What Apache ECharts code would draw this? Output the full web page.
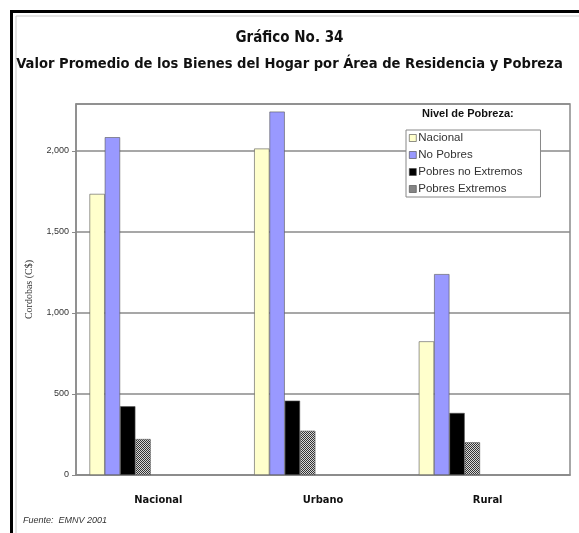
<!DOCTYPE html>
<html>
<head>
<meta charset="utf-8">
<script src="https://cdn.jsdelivr.net/npm/echarts@6/dist/echarts.min.js"></script>
<style>
  html, body { margin: 0; padding: 0; background: #fff; }
  #chart { width: 579px; height: 533px; }
</style>
</head>
<body>
<div id="chart"></div>
<script>
// datos
var areas = ['Nacional', 'Urbano', 'Rural'];
var nivel = ['Nacional', 'No Pobres', 'Pobres no Extremos', 'Pobres Extremos'];
var valNacional = [1735, 2015, 825];
var valNoPobres = [2085, 2243, 1240];
var valNoExtremos = [424, 459, 383];
var valExtremos = [222, 273, 202];
var yTicks = [0, 500, 1000, 1500, 2000];

var narrow = "'DejaVu Sans Condensed', 'Liberation Sans Narrow', 'Liberation Sans', sans-serif";

// trama cuadriculada para "Pobres Extremos"
function hatch() {
    var c = document.createElement('canvas');
    c.width = 2; c.height = 2;
    var ctx = c.getContext('2d');
    ctx.fillStyle = '#d8d8d8';
    ctx.fillRect(0, 0, 2, 2);
    ctx.fillStyle = '#333';
    ctx.fillRect(0, 0, 1, 1);
    ctx.fillRect(1, 1, 1, 1);
    return { image: c, repeat: 'repeat' };
}

var myChart = echarts.init(document.getElementById('chart'));
var barW = 15.3;
function serie(name, data, color) {
    return {
        name: name,
        type: 'bar',
        data: data,
        barWidth: barW,
        barGap: '0%',
        itemStyle: { color: color, borderColor: '#555', borderWidth: 0.6 }
    };
}
// series vacias: en el original el grupo de barras no esta centrado
var empty = [null, null, null];
var series = [
    serie(nivel[0], valNacional, '#ffffcc'),
    serie(nivel[1], valNoPobres, '#9999ff'),
    serie(nivel[2], valNoExtremos, '#000000'),
    serie(nivel[3], valExtremos, hatch())
];
for (var i = 0; i < 5; i++) {
    series.push({ name: 'x' + i, type: 'bar', data: empty, barWidth: barW, barGap: '0%', silent: true });
}

var option = {
    backgroundColor: '#fff',
    animation: false,
    title: [
        {
            text: 'Gráfico No. 34',
            left: 'center',
            top: 26,
            textStyle: { fontFamily: narrow, fontWeight: 'bold', fontSize: 15, color: '#111' }
        },
        {
            text: 'Valor Promedio de los Bienes del Hogar por Área de Residencia y Pobreza',
            left: 'center',
            top: 52,
            textStyle: { fontFamily: narrow, fontWeight: 'bold', fontSize: 14.6, color: '#111' }
        },
        {
            text: 'Nivel de Pobreza:',
            left: 422,
            top: 108,
            padding: 0,
            textStyle: { fontFamily: 'Liberation Sans', fontWeight: 'bold', fontSize: 11, color: '#111' }
        },
        {
            text: 'Fuente:  EMNV 2001',
            left: 23,
            top: 516,
            padding: 0,
            textStyle: { fontFamily: 'Liberation Sans', fontStyle: 'italic', fontWeight: 'normal', fontSize: 9, color: '#333' }
        }
    ],
    legend: {
        data: nivel,
        orient: 'vertical',
        left: 406,
        top: 130,
        icon: 'rect',
        itemWidth: 7,
        itemHeight: 7,
        itemGap: 5,
        padding: [2, 18, 2, 3],
        borderColor: '#888',
        borderWidth: 1,
        backgroundColor: '#fff',
        itemStyle: { borderColor: '#444', borderWidth: 0.6 },
        textStyle: { fontFamily: 'Liberation Sans', fontSize: 11.5, color: '#333', padding: [0, 0, 0, -3] }
    },
    grid: {
        left: 76,
        right: 9,
        top: 104,
        bottom: 58,
        show: true,
        borderColor: '#8a8a8a',
        borderWidth: 1.5,
        backgroundColor: '#fff'
    },
    xAxis: {
        type: 'category',
        data: areas,
        axisLine: { lineStyle: { color: '#8a8a8a', width: 1.5 } },
        axisTick: { show: false },
        axisLabel: {
            margin: 20,
            fontFamily: narrow,
            fontWeight: 'bold',
            fontSize: 11,
            color: '#111'
        }
    },
    yAxis: {
        type: 'value',
        min: yTicks[0],
        max: 2290,
        interval: yTicks[1] - yTicks[0],
        name: 'Cordobas (C$)',
        nameLocation: 'middle',
        nameGap: 42,
        nameTextStyle: { fontFamily: 'Liberation Serif', fontSize: 10, color: '#333' },
        axisLine: { show: true, lineStyle: { color: '#8a8a8a', width: 1.5 } },
        axisTick: { show: true, length: 4, lineStyle: { color: '#8a8a8a' } },
        splitLine: { lineStyle: { color: '#8a8a8a', width: 1.5 } },
        axisLabel: {
            showMaxLabel: false,
            margin: 7,
            fontFamily: 'Liberation Sans',
            fontSize: 9,
            color: '#333',
            formatter: function (v) {
                return v.toLocaleString('en-US');
            }
        }
    },
    graphic: [
        {
            type: 'rect',
            shape: { x: 11.5, y: 11.5, width: 640, height: 640 },
            style: { fill: 'none', stroke: '#000', lineWidth: 3 },
            silent: true
        },
        {
            type: 'rect',
            shape: { x: 16, y: 16, width: 640, height: 640 },
            style: { fill: 'none', stroke: '#c8c8c8', lineWidth: 1 },
            silent: true
        }
    ],
    series: series
};
if (option && typeof option === "object") {
    myChart.setOption(option, true);
}
</script>
</body>
</html>
